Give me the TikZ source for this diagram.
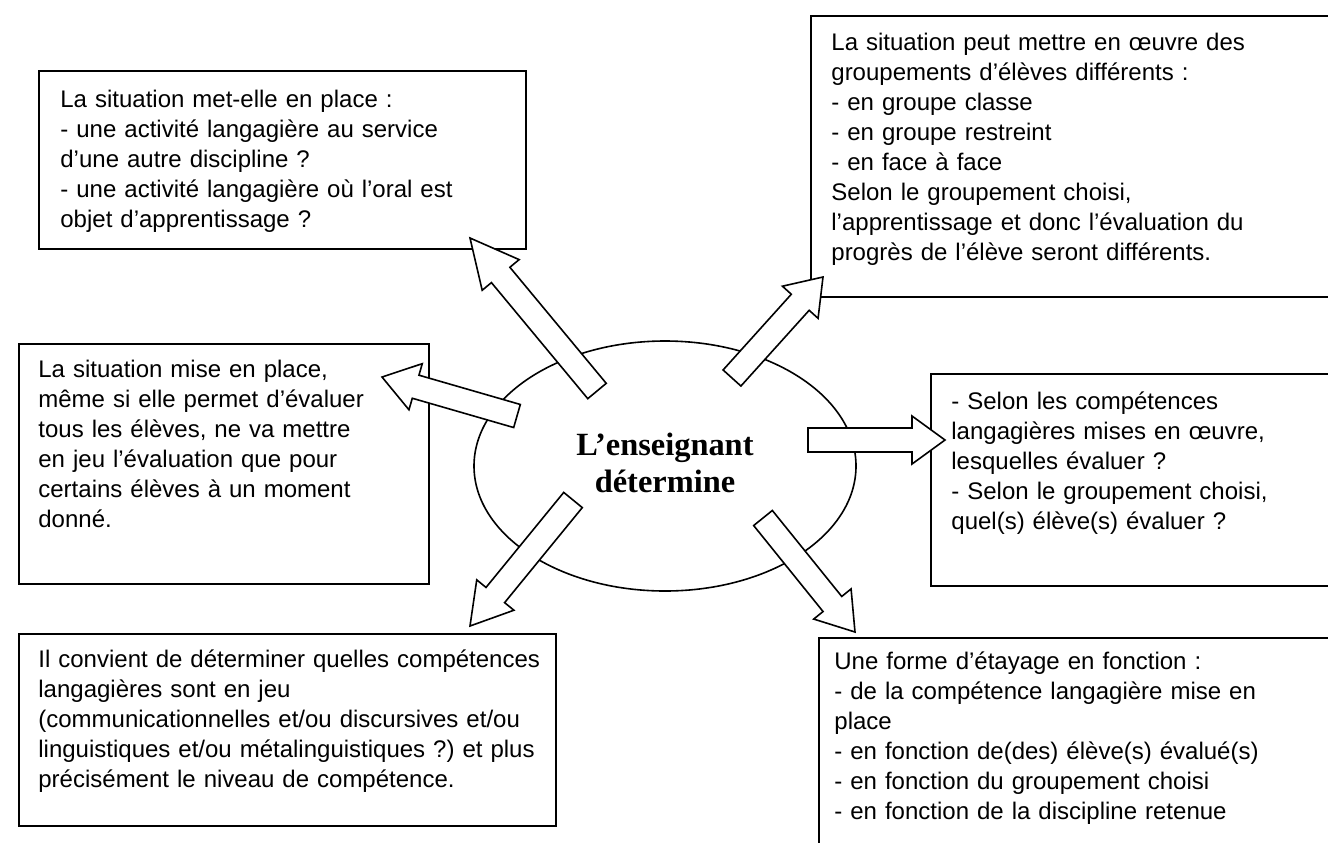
\documentclass[tikz,border=0pt]{standalone}
\usepackage{fontspec}
\setmainfont{Liberation Sans}
\newfontfamily\titlefont{Liberation Serif}
\usetikzlibrary{calc,positioning,shapes.geometric}
\frenchspacing
\tikzset{
  box/.style   ={draw, line width=1pt, anchor=north west, inner sep=0pt},
  txt/.style   ={align=left, text width=272pt, inner sep=0pt, font=\fontsize{12}{15}\selectfont, execute at begin node=\strut},
  oval/.style  ={draw, ellipse, line width=0.8pt, minimum width=191pt, minimum height=125pt, inner sep=0pt},
  bigarr/.style={draw, fill=white, line width=0.8pt, line join=miter},
  ttl/.style   ={align=center, inner sep=0pt, font=\titlefont\bfseries\fontsize{16.2}{18.5}\selectfont},
}
\newcommand{\shaftw}{6pt}
\newcommand{\headw}{12pt}
% block arrow: tail, tip, head length
\newcommand{\bigarrow}[3]{%
  \coordinate (hb) at ($(#2)!#3!(#1)$);
  \path[bigarr] ($(#1)!\shaftw!90:(#2)$) -- ($(hb)!\shaftw!-90:(#1)$) -- ($(hb)!\headw!-90:(#1)$)
    -- (#2) -- ($(hb)!\headw!90:(#1)$) -- ($(hb)!\shaftw!90:(#1)$) -- ($(#1)!\shaftw!-90:(#2)$) -- cycle;
}

\begin{document}
\begin{tikzpicture}[x=0.5pt, y=-0.5pt]
  \useasboundingbox (0,0) rectangle (1328,842);
  \clip (0,0) rectangle (1328,842);
  % boxes
  \node[box, minimum width=243.5pt, minimum height=89pt]  (b1) at (38,70) {};
  \node[box, minimum width=267.5pt, minimum height=140.5pt] (b2) at (810,15) {};
  \node[box, minimum width=205pt, minimum height=120pt]   (b3) at (18,343) {};
  \node[box, minimum width=211pt, minimum height=106pt]   (b4) at (930,373) {};
  \node[box, minimum width=268.5pt, minimum height=96pt]  (b5) at (18,633) {};
  \node[box, minimum width=263.5pt, minimum height=112pt] (b6) at (818,637) {};
  % centre
  \node[oval] (ens) at (665,466) {};
  % arrows
  \coordinate (tl1) at (597,391); \coordinate (tp1) at (470,238);
  \coordinate (tl2) at (732,378); \coordinate (tp2) at (823,277);
  \coordinate (tl3) at (517,416); \coordinate (tp3) at (382,377);
  \coordinate (tl4) at (808,440); \coordinate (tp4) at (945,440);
  \coordinate (tl5) at (573,500); \coordinate (tp5) at (470,626);
  \coordinate (tl6) at (763,518); \coordinate (tp6) at (855,632);
  \bigarrow{tl1}{tp1}{24pt}
  \bigarrow{tl2}{tp2}{17pt}
  \bigarrow{tl3}{tp3}{17.5pt}
  \bigarrow{tl4}{tp4}{16.5pt}
  \bigarrow{tl5}{tp5}{20pt}
  \bigarrow{tl6}{tp6}{18pt}
  % texts
  \node[ttl] (head) at (665,463) {L’enseignant\\détermine};
  \node[txt, below right=8pt and 11pt of b1.north west] (t1) {La situation met-elle en place :\\- une activité langagière au service\\d’une autre discipline ?\\- une activité langagière où l’oral est\\objet d’apprentissage ?};
  \node[txt, below right=7pt and 10.5pt of b2.north west] (t2) {La situation peut mettre en œuvre des\\groupements d’élèves différents :\\- en groupe classe\\- en groupe restreint\\- en face à face\\Selon le groupement choisi,\\l’apprentissage et donc l’évaluation du\\progrès de l’élève seront différents.};
  \node[txt, below right=6.5pt and 10pt of b3.north west] (t3) {La situation mise en place,\\même si elle permet d’évaluer\\tous les élèves, ne va mettre\\en jeu l’évaluation que pour\\certains élèves à un moment\\donné.};
  \node[txt, below right=7.5pt and 10.5pt of b4.north west] (t4) {- Selon les compétences\\langagières mises en œuvre,\\lesquelles évaluer ?\\- Selon le groupement choisi,\\quel(s) élève(s) évaluer ?};
  \node[txt, below right=6.5pt and 10pt of b5.north west] (t5) {Il convient de déterminer quelles compétences\\langagières sont en jeu\\(communicationnelles et/ou discursives et/ou\\linguistiques et/ou métalinguistiques ?) et plus\\précisément le niveau de compétence.};
  \node[txt, below right=5.5pt and 8pt of b6.north west] (t6) {Une forme d’étayage en fonction :\\- de la compétence langagière mise en\\place\\- en fonction de(des) élève(s) évalué(s)\\- en fonction du groupement choisi\\- en fonction de la discipline retenue};
\end{tikzpicture}
\end{document}
